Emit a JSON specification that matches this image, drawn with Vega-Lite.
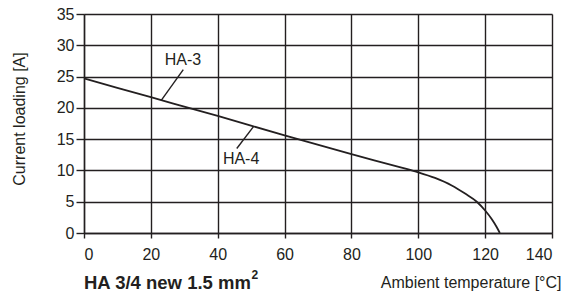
{
  "$schema": "https://vega.github.io/schema/vega-lite/v6.json",
  "width": 468,
  "height": 219,
  "autosize": "none",
  "padding": {"left": 84, "top": 14, "right": 27, "bottom": 60},
  "background": "white",
  "config": {
    "view": {"stroke": null},
    "font": "Liberation Sans",
    "axis": {
      "grid": true,
      "gridColor": "#231f20",
      "gridWidth": 1.4,
      "gridOpacity": 1,
      "domainColor": "#231f20",
      "domainWidth": 1.4,
      "tickColor": "#231f20",
      "tickWidth": 1.4,
      "labelFont": "Liberation Sans",
      "labelFontSize": 16,
      "labelColor": "#231f20",
      "labelOverlap": false,
      "titleFont": "Liberation Sans",
      "titleFontSize": 16,
      "titleFontWeight": "normal",
      "titleColor": "#231f20"
    }
  },
  "title": {
    "text": "HA 3/4 new 1.5 mm",
    "orient": "bottom",
    "anchor": "start",
    "frame": "group",
    "font": "Liberation Sans",
    "fontSize": 18.5,
    "fontWeight": "bold",
    "color": "#231f20",
    "offset": -16
  },
  "datasets": {
    "curve": [
      {"t": 0, "i": 24.7},
      {"t": 20, "i": 21.7},
      {"t": 40, "i": 18.7},
      {"t": 60, "i": 15.6},
      {"t": 80, "i": 12.6},
      {"t": 95, "i": 10.45},
      {"t": 100, "i": 9.7},
      {"t": 105, "i": 8.8},
      {"t": 110, "i": 7.6},
      {"t": 114, "i": 6.3},
      {"t": 117.5, "i": 5.0},
      {"t": 120, "i": 3.6},
      {"t": 122, "i": 2.2},
      {"t": 123.4, "i": 1.0},
      {"t": 124.4, "i": 0}
    ],
    "leaders": [
      {"t": 29.7, "i": 26.1, "t2": 23.1, "i2": 21.2},
      {"t": 45.7, "i": 13.5, "t2": 50.7, "i2": 17.0}
    ],
    "labels": [
      {"name": "HA-3", "t": 29.6, "i": 27.6},
      {"name": "HA-4", "t": 47.0, "i": 11.8}
    ],
    "sup": [
      {"name": "2", "t": 50.1, "i": -7.4}
    ]
  },
  "encoding": {
    "x": {
      "field": "t", "type": "quantitative",
      "scale": {"domain": [0, 140], "nice": false},
      "axis": {
        "values": [0, 20, 40, 60, 80, 100, 120, 140],
        "tickSize": 5,
        "labelPadding": 8,
        "title": "Ambient temperature [°C]",
        "titleAnchor": "end",
        "titleAlign": "right",
        "titleX": 477,
        "titleY": 54,
        "titleBaseline": "alphabetic"
      }
    },
    "y": {
      "field": "i", "type": "quantitative",
      "scale": {"domain": [0, 35], "nice": false},
      "axis": {
        "values": [0, 5, 10, 15, 20, 25, 30, 35],
        "tickSize": 8,
        "labelPadding": 2,
        "title": "Current loading [A]",
        "titleX": -60,
        "titleY": 104.5,
        "titleAlign": "center",
        "titleBaseline": "alphabetic"
      }
    }
  },
  "layer": [
    {
      "data": {"name": "curve"},
      "mark": {"type": "line", "color": "#231f20", "strokeWidth": 1.8, "interpolate": "monotone"}
    },
    {
      "data": {"name": "leaders"},
      "mark": {"type": "rule", "color": "#231f20", "strokeWidth": 1.4},
      "encoding": {
        "x2": {"field": "t2"},
        "y2": {"field": "i2"}
      }
    },
    {
      "data": {"name": "labels"},
      "mark": {"type": "text", "font": "Liberation Sans", "fontSize": 16, "color": "#231f20", "align": "center", "baseline": "middle"},
      "encoding": {
        "text": {"field": "name"}
      }
    },
    {
      "data": {"name": "sup"},
      "mark": {"type": "text", "font": "Liberation Sans", "fontSize": 12, "fontWeight": "bold", "color": "#231f20", "align": "left", "baseline": "alphabetic"},
      "encoding": {
        "text": {"field": "name"}
      }
    }
  ]
}
